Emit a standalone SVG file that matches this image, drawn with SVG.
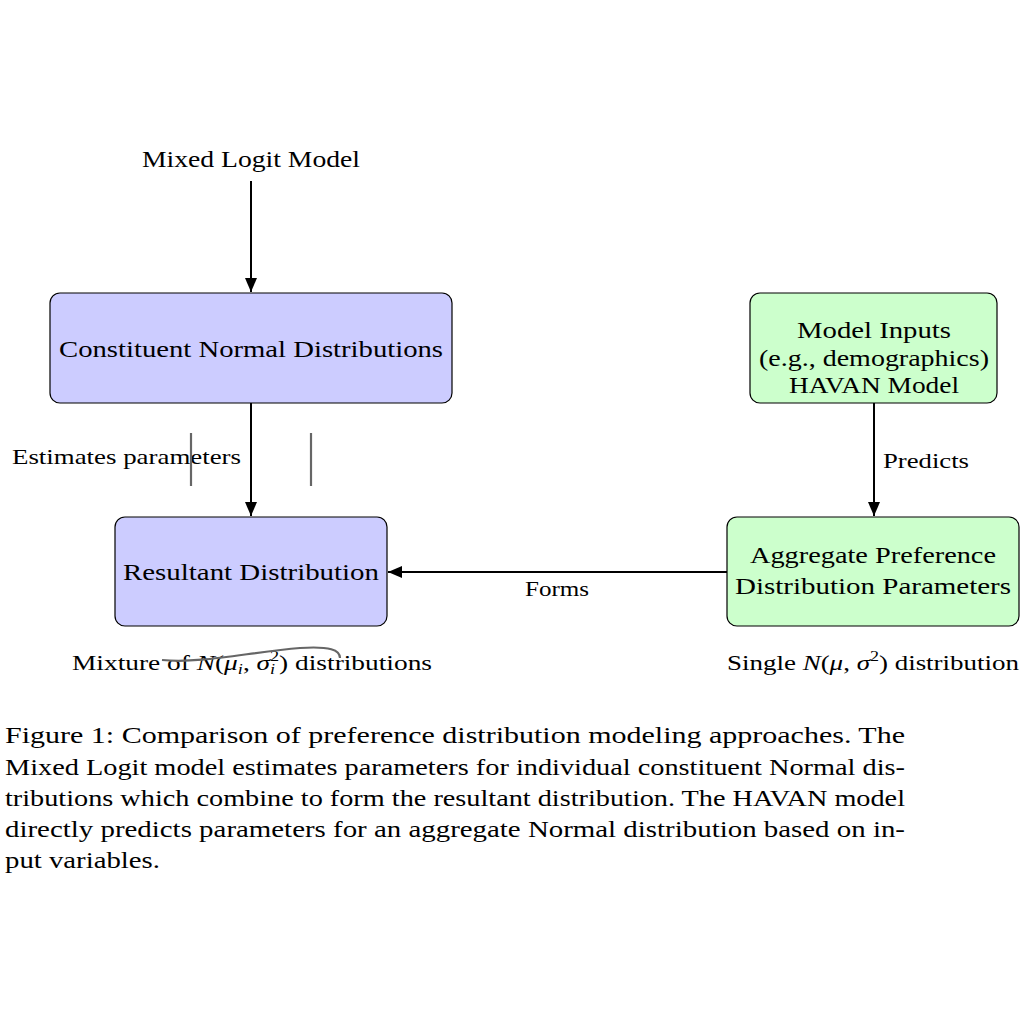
<svg xmlns="http://www.w3.org/2000/svg" width="1024" height="1024" viewBox="0 0 1024 1024">
<defs>
<style>
text{font-family:"Liberation Serif","DejaVu Serif",serif;fill:#000}
.t{font-size:24px}
.s{font-size:21px}
.m{font-style:italic}
.box{stroke:#000;stroke-width:1.2}
.blue{fill:#ccccff}
.green{fill:#ccffcc}
.conn{stroke:#000;stroke-width:2;fill:none}
.gray{stroke:#666;stroke-width:2.2;fill:none}
</style>
<marker id="ah" viewBox="0 0 14 12" refX="14" refY="6" markerWidth="14" markerHeight="12" markerUnits="userSpaceOnUse" orient="auto">
<path d="M0,0 L14,6 L0,12 Z" fill="#000"/>
</marker>
</defs>
<rect width="1024" height="1024" fill="#fff"/>

<g id="mixed-logit">
<text class="t" x="251" y="167" text-anchor="middle" textLength="218" lengthAdjust="spacingAndGlyphs">Mixed Logit Model</text>
</g>

<g id="constituent">
<rect class="box blue" x="50" y="293" width="402" height="110" rx="10"/>
<text class="t" x="251" y="357" text-anchor="middle" textLength="384" lengthAdjust="spacingAndGlyphs">Constituent Normal Distributions</text>
</g>

<g id="resultant">
<rect class="box blue" x="115" y="517" width="272" height="109" rx="10"/>
<text class="t" x="251" y="580" text-anchor="middle" textLength="256" lengthAdjust="spacingAndGlyphs">Resultant Distribution</text>
</g>

<g id="model-inputs">
<rect class="box green" x="750" y="293" width="247" height="110" rx="10"/>
<text class="t" x="874" y="338" text-anchor="middle" textLength="154" lengthAdjust="spacingAndGlyphs">Model Inputs</text>
<text class="t" x="874" y="366" text-anchor="middle" textLength="230" lengthAdjust="spacingAndGlyphs">(e.g., demographics)</text>
<text class="t" x="874" y="393" text-anchor="middle" textLength="170" lengthAdjust="spacingAndGlyphs">HAVAN Model</text>
</g>

<g id="aggregate">
<rect class="box green" x="727" y="517" width="292" height="109" rx="10"/>
<text class="t" x="873" y="563" text-anchor="middle" textLength="246" lengthAdjust="spacingAndGlyphs">Aggregate Preference</text>
<text class="t" x="873" y="594" text-anchor="middle" textLength="276" lengthAdjust="spacingAndGlyphs">Distribution Parameters</text>
</g>

<g id="connectors">
<line class="conn" x1="251" y1="181" x2="251" y2="292" marker-end="url(#ah)"/>
<line class="conn" x1="251" y1="403" x2="251" y2="516" marker-end="url(#ah)"/>
<line class="conn" x1="874" y1="403" x2="874" y2="516" marker-end="url(#ah)"/>
<line class="conn" x1="727" y1="572" x2="388" y2="572" marker-end="url(#ah)"/>
<text class="s" x="12" y="464" textLength="229" lengthAdjust="spacingAndGlyphs">Estimates parameters</text>
<text class="s" x="883" y="468" textLength="86" lengthAdjust="spacingAndGlyphs">Predicts</text>
<text class="s" x="557" y="596" text-anchor="middle" textLength="64" lengthAdjust="spacingAndGlyphs">Forms</text>
</g>

<g id="annotations">
<line class="gray" x1="191" y1="433" x2="191" y2="486"/>
<line class="gray" x1="311" y1="433" x2="311" y2="486"/>
<text class="s" x="72" y="670" textLength="360" lengthAdjust="spacingAndGlyphs">Mixture of <tspan class="m">N</tspan>(<tspan class="m">μ</tspan><tspan class="m" font-size="14" dy="4">i</tspan><tspan dy="-4">, </tspan><tspan class="m">σ</tspan><tspan class="m" font-size="14" dy="4">i</tspan><tspan font-size="14" dx="-4" dy="-13">2</tspan><tspan dy="9">) distributions</tspan></text>
<path class="gray" d="M162,660 C200,664 250,652 300,648 C330,646 340,650 340,658"/>
<text class="s" x="727" y="670" textLength="292" lengthAdjust="spacingAndGlyphs">Single <tspan class="m">N</tspan>(<tspan class="m">μ</tspan>, <tspan class="m">σ</tspan><tspan font-size="14" dy="-9">2</tspan><tspan dy="9">) distribution</tspan></text>
</g>

<g id="caption">
<text class="t" x="5" y="743" textLength="900" lengthAdjust="spacingAndGlyphs">Figure 1: Comparison of preference distribution modeling approaches. The</text>
<text class="t" x="5" y="775" textLength="900" lengthAdjust="spacingAndGlyphs">Mixed Logit model estimates parameters for individual constituent Normal dis-</text>
<text class="t" x="5" y="806" textLength="900" lengthAdjust="spacingAndGlyphs">tributions which combine to form the resultant distribution. The HAVAN model</text>
<text class="t" x="5" y="837" textLength="900" lengthAdjust="spacingAndGlyphs">directly predicts parameters for an aggregate Normal distribution based on in-</text>
<text class="t" x="5" y="868" textLength="155" lengthAdjust="spacingAndGlyphs">put variables.</text>
</g>
</svg>
